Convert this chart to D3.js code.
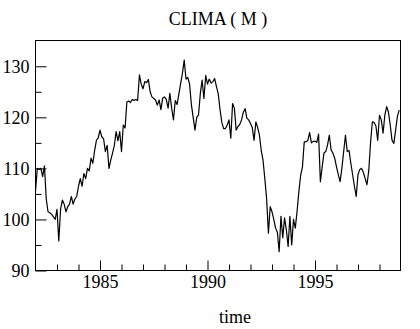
<!DOCTYPE html>
<html>
<head>
<meta charset="utf-8">
<script src="https://cdn.jsdelivr.net/npm/d3@7"></script>
<style>
  html, body { margin: 0; padding: 0; background: #fff; }
  svg { display: block; }
  text { font-family: "Liberation Serif", "Times New Roman", serif; fill: #000; }
</style>
</head>
<body>
<svg id="chart" width="420" height="329"></svg>
<script>
// ---- data: monthly values, Jan 1982 .. Dec 1998 ----
const startYear = 1982;
const v1982 = [105.5, 110, 109.8, 110, 108.4, 110.5, 104, 101.5, 101.3, 101, 100.5, 100];
const v1983 = [102, 95.8, 102, 103.8, 103, 101.5, 102.5, 103, 104.5, 103, 104, 104.5];
const v1984 = [106.5, 108, 106.5, 109, 108, 110, 109.5, 112, 111, 113.5, 115.5, 116];
const v1985 = [117.5, 116.2, 115.8, 113.3, 114.5, 110, 111.6, 113, 114.5, 117.2, 115.4, 117.2];
const v1986 = [113.3, 118.5, 117.9, 123, 123.2, 122.9, 123.5, 123.3, 123.5, 123.3, 128.3, 126.5];
const v1987 = [125.6, 127, 126.8, 127.4, 125, 124, 123.7, 123.4, 122.4, 123.4, 121.5, 123.8];
const v1988 = [124, 123.5, 121.8, 124.7, 121.8, 119.5, 123.3, 122.5, 124.5, 126.6, 128.6, 131.2];
const v1989 = [127.5, 127.8, 126.5, 122.5, 120, 117.5, 120, 120.5, 124.7, 127.3, 123.7, 128.2];
const v1990 = [126.5, 127.5, 126.7, 127, 127.6, 126, 124.6, 121.5, 119, 117.8, 117.8, 118.5];
const v1991 = [119.5, 115.9, 122.7, 121.8, 117.5, 118.2, 118.6, 119.5, 121, 121.7, 119.8, 119.5];
const v1992 = [118.8, 118, 115.5, 119.1, 118, 116.5, 113.5, 111.6, 108, 104, 97.3, 102.5];
const v1993 = [101.5, 100, 98.3, 97.5, 93.7, 100.6, 96.4, 100.3, 98, 94.7, 100.6, 95];
const v1994 = [100, 98.3, 101.6, 105.5, 108.7, 110.3, 115.2, 115.2, 115.5, 117, 115, 115.3];
const v1995 = [115.3, 115.1, 116.7, 107.4, 110.3, 113, 113.3, 114.6, 116.5, 113.6, 113, 112];
const v1996 = [110.3, 108.8, 107.4, 110, 113.3, 116.5, 113.3, 113.5, 111, 108.8, 106.5, 104.5];
const v1997 = [108.8, 109.8, 110, 109.2, 108, 106.8, 109.5, 115, 119.1, 119, 118.3, 115.5];
const v1998 = [120.4, 119.5, 116.9, 120.5, 122.1, 121, 118.5, 115.5, 114.9, 117.5, 120.2, 121.4];

const xMajorTicks = [1985, 1990, 1995];
const xMinorTicks = [1983, 1984, 1986, 1987, 1988, 1989, 1991, 1992, 1993, 1994, 1996, 1997, 1998];
const yMajorTicks = [90, 100, 110, 120, 130];
const yMinorTicks = [95, 105, 115, 125];
const titleText = "CLIMA ( M )";
const xLabel = "time";

// ---- build series ----
const years = [v1982, v1983, v1984, v1985, v1986, v1987, v1988, v1989, v1990,
               v1991, v1992, v1993, v1994, v1995, v1996, v1997, v1998];
const series = [];
years.forEach((arr, yi) => arr.forEach((v, m) => series.push({ t: startYear + yi + m / 12, v })));

// ---- layout ----
const pLeft = 35.5, pRight = 400.5, pTop = 40.5, pBottom = 270.5;
const svg = d3.select("#chart");

const x = d3.scaleLinear().domain([1982, 1999]).range([pLeft, pLeft + 17 * 21.5]);
const y = d3.scaleLinear().domain([90, 135.05]).range([pBottom, pTop]);

// line
const line = d3.line().x(d => x(d.t)).y(d => y(d.v));
svg.append("path")
  .datum(series)
  .attr("d", line)
  .attr("fill", "none")
  .attr("stroke", "#000")
  .attr("stroke-width", 1.2)
  .attr("stroke-linejoin", "round");

// axes
function styleAxis(g) {
  g.select(".domain").remove();
  g.selectAll(".tick line").attr("stroke", "#000").attr("stroke-width", 1);
  g.selectAll(".tick text").style("font-size", "18px").style("font-family", "'Liberation Serif', serif").attr("fill", "#000");
}

svg.append("g").attr("transform", `translate(0,${pBottom})`)
  .call(d3.axisBottom(x).tickValues(xMajorTicks).tickFormat(d3.format("d")).tickSize(-10).tickPadding(4.5))
  .call(styleAxis);
svg.append("g").attr("transform", `translate(0,${pBottom})`)
  .call(d3.axisBottom(x).tickValues(xMinorTicks).tickFormat("").tickSize(-6))
  .call(styleAxis);

svg.append("g").attr("transform", `translate(${pLeft},0)`)
  .call(d3.axisLeft(y).tickValues(yMajorTicks).tickFormat(d3.format("d")).tickSize(-11).tickPadding(6))
  .call(styleAxis);
svg.append("g").attr("transform", `translate(${pLeft},0)`)
  .call(d3.axisLeft(y).tickValues(yMinorTicks).tickFormat("").tickSize(-6))
  .call(styleAxis);

// frame
svg.append("rect")
  .attr("x", pLeft).attr("y", pTop)
  .attr("width", pRight - pLeft).attr("height", pBottom - pTop)
  .attr("fill", "none").attr("stroke", "#000").attr("stroke-width", 1);

// title & axis label
svg.append("text").attr("x", 218).attr("y", 25).attr("text-anchor", "middle")
  .style("font-size", "18px").text(titleText);
svg.append("text").attr("x", 235).attr("y", 323).attr("text-anchor", "middle")
  .style("font-size", "18px").text(xLabel);
</script>
</body>
</html>
